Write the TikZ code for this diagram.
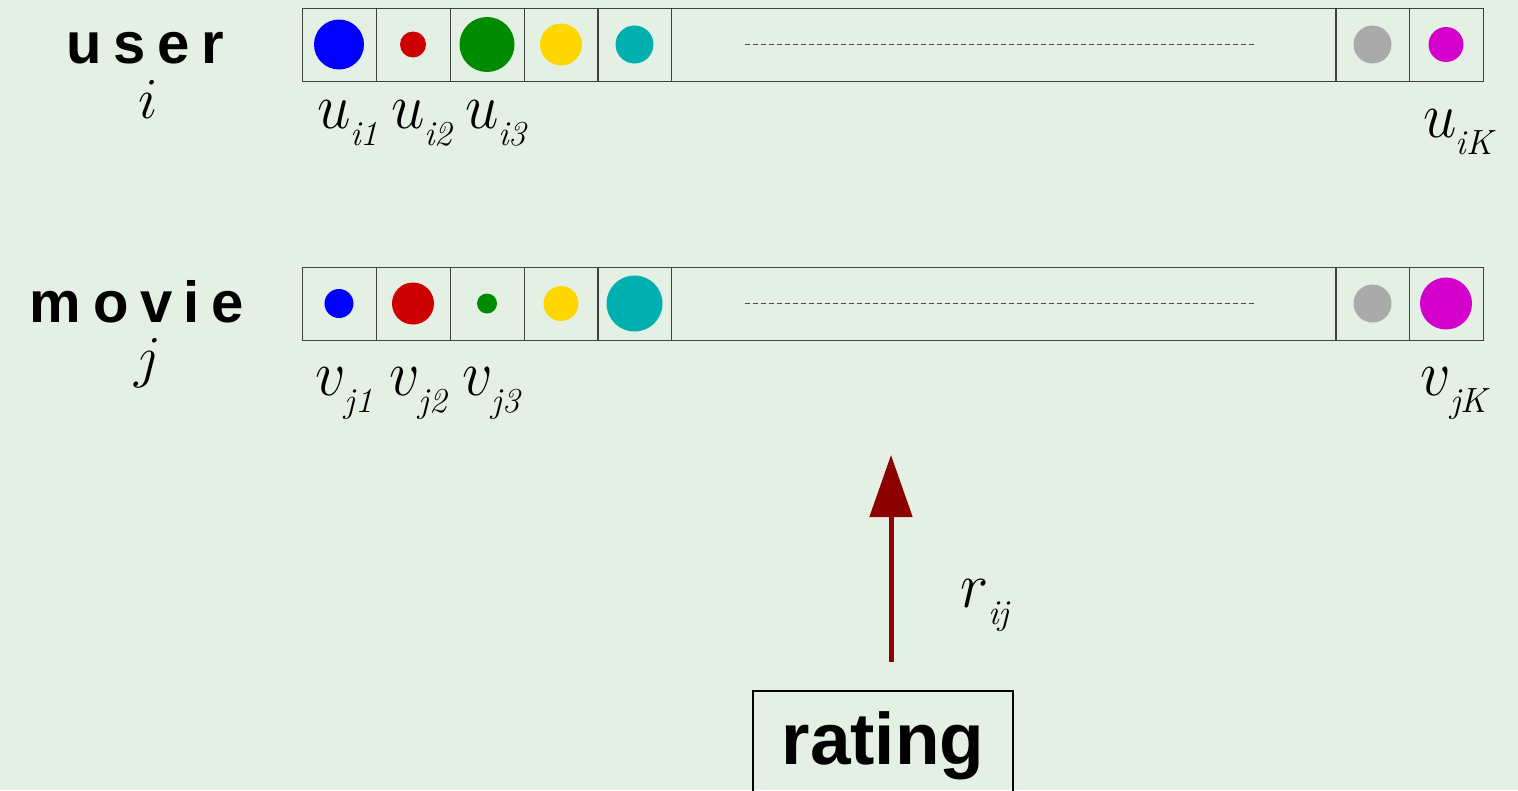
\RequirePackage{fix-cm}
\documentclass[tikz,border=0pt]{standalone}
\usepackage{fontspec}
\usepackage{tikz}
\usetikzlibrary{arrows.meta}
\newfontfamily\headfont{Liberation Sans}
\newcommand{\ltr}{\hspace{.2em}}
\newcommand{\vlab}[2]{\scalebox{1}[1.08]{$#1$}\hspace{-1pt}\raisebox{-17pt}{\fontsize{35}{36}\selectfont$\mathit{#2}$}}
\definecolor{bgcol}{RGB}{228,240,228}
\definecolor{cblue}{RGB}{0,0,255}
\definecolor{cred}{RGB}{204,0,0}
\definecolor{cgreen}{RGB}{0,139,0}
\definecolor{cyellow}{RGB}{255,215,0}
\definecolor{ccyan}{RGB}{0,176,176}
\definecolor{cgray}{RGB}{170,170,170}
\definecolor{cmagenta}{RGB}{212,0,204}
\definecolor{arrowred}{RGB}{139,0,0}

\begin{document}
\begin{tikzpicture}[x=1pt,y=-1pt,
  cell/.style={draw=black!75,line width=1pt,minimum width=74pt,minimum height=73pt,inner sep=0pt},
  tag/.style={font=\headfont\bfseries\fontsize{58}{60}\selectfont,anchor=base,inner sep=0pt},
  lab/.style={font=\fontsize{60}{64}\selectfont,anchor=base,inner sep=0pt},
  idx/.style={font=\fontsize{58}{60}\selectfont,anchor=base,inner sep=0pt},
  gap/.style={dashed,dash pattern=on 5pt off 3pt,line width=0.8pt,draw=black!70},
  arr/.style={-{Triangle[width=42pt,length=62pt]},line width=5pt,draw=arrowred},
  ratebox/.style={draw=black,line width=1.5pt,anchor=north,minimum width=260pt,minimum height=110pt,inner sep=0pt,font=\headfont\bfseries\fontsize{73}{78}\selectfont}]
\fill[bgcol] (0,0) rectangle (1518,790);
\clip (0,0) rectangle (1518,790);

\node[tag] (user) at (145,63) {u\ltr s\ltr e\ltr r};
\node[idx] (ui) at (148,118) {$i$};
\node[tag] (movie) at (137,322) {m\ltr o\ltr v\ltr i\ltr e};
\node[idx] (vj) at (148,376) {$j$};

\node[cell] (u1) at (339,44.5) {};
\node[cell] (u2) at (413,44.5) {};
\node[cell] (u3) at (487,44.5) {};
\node[cell] (u4) at (561,44.5) {};
\node[cell] (u5) at (634.5,44.5) {};
\node[cell,minimum width=665pt] (um) at (1003.5,44.5) {};
\node[cell] (uk1) at (1372.5,44.5) {};
\node[cell] (uk) at (1446,44.5) {};
\draw[gap] ([xshift=74pt]um.west) -- ([xshift=-81pt]um.east);
\fill[cblue] (u1.center) circle (25pt);
\fill[cred] (u2.center) circle (13pt);
\fill[cgreen] (u3.center) circle (27.5pt);
\fill[cyellow] (u4.center) circle (21pt);
\fill[ccyan] (u5.center) circle (19pt);
\fill[cgray] (uk1.center) circle (19pt);
\fill[cmagenta] (uk.center) circle (17.5pt);

\node[cell] (v1) at (339,303.5) {};
\node[cell] (v2) at (413,303.5) {};
\node[cell] (v3) at (487,303.5) {};
\node[cell] (v4) at (561,303.5) {};
\node[cell] (v5) at (634.5,303.5) {};
\node[cell,minimum width=665pt] (vm) at (1003.5,303.5) {};
\node[cell] (vk1) at (1372.5,303.5) {};
\node[cell] (vk) at (1446,303.5) {};
\draw[gap] ([xshift=74pt]vm.west) -- ([xshift=-81pt]vm.east);
\fill[cblue] (v1.center) circle (14.5pt);
\fill[cred] (v2.center) circle (21pt);
\fill[cgreen] (v3.center) circle (10pt);
\fill[cyellow] (v4.center) circle (17.5pt);
\fill[ccyan] (v5.center) circle (28pt);
\fill[cgray] (vk1.center) circle (19pt);
\fill[cmagenta] (vk.center) circle (26pt);

\node[lab] (lu1) at (348,128) {\vlab{u}{i1}};
\node[lab] (lu2) at (422,128) {\vlab{u}{i2}};
\node[lab] (lu3) at (496,128) {\vlab{u}{i3}};
\node[lab] (luk) at (1458,137) {\vlab{u}{iK}};
\node[lab] (lv1) at (344,395) {\vlab{v}{j1}};
\node[lab] (lv2) at (418,395) {\vlab{v}{j2}};
\node[lab] (lv3) at (491,395) {\vlab{v}{j3}};
\node[lab] (lvk) at (1454,395) {\vlab{v}{jK}};

\node[ratebox] (rating) at (883,690) {rating};
\coordinate (tip) at (891,455);
\draw[arr] ([xshift=8pt,yshift=28pt]rating.north) -- (tip);
\node[lab] (rij) at (985,607) {\vlab{r}{ij}};
\end{tikzpicture}
\end{document}
